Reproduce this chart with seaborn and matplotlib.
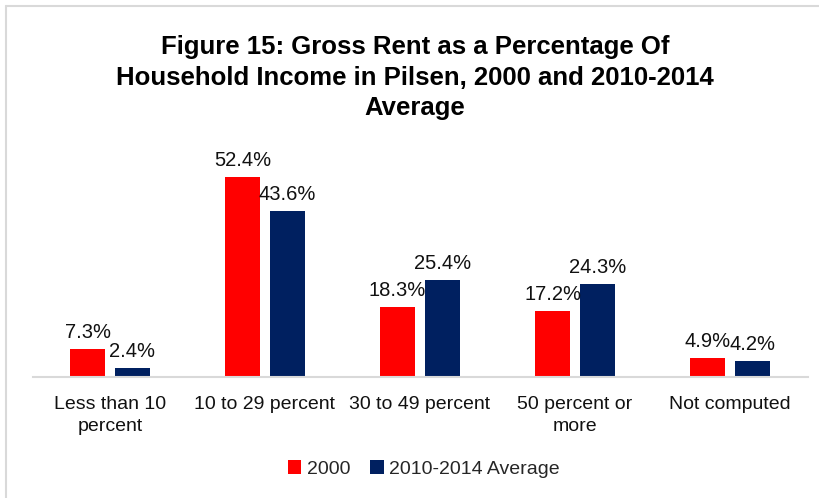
import matplotlib
matplotlib.use("Agg")
import matplotlib.pyplot as plt
from matplotlib.lines import Line2D
import seaborn as sns
import pandas as pd

categories = ["Less than 10\npercent", "10 to 29 percent", "30 to 49 percent",
              "50 percent or\nmore", "Not computed"]
series_names = ["2000", "2010-2014 Average"]
values_2000 = [7.3, 52.4, 18.3, 17.2, 4.9]
values_2014 = [2.4, 43.6, 25.4, 24.3, 4.2]
colors = ["#FF0000", "#002060"]

df = pd.DataFrame({
    "category": categories * 2,
    "series": [series_names[0]] * len(categories) + [series_names[1]] * len(categories),
    "value": values_2000 + values_2014,
})

sns.set_theme(style="white")
plt.rcParams['font.family'] = ['Liberation Sans', 'DejaVu Sans']

fig = plt.figure(figsize=(8.19, 4.98), dpi=100)
ax = fig.add_axes([32.5 / 819, (498 - 377) / 498, 775 / 819, 227 / 498])

sns.barplot(data=df, x="category", y="value", hue="series", order=categories,
            hue_order=series_names, palette=colors, width=0.58, gap=0.22,
            saturation=1, edgecolor="none", ax=ax, legend=True)

ax.set_ylim(0, 59.47)
ax.set_xlim(-0.5, len(categories) - 0.5)
for s in ["top", "right", "left"]:
    ax.spines[s].set_visible(False)
ax.spines["bottom"].set_color("#d9d9d9")
ax.spines["bottom"].set_linewidth(1.5)
ax.set_yticks([])
ax.set_xlabel("")
ax.set_ylabel("")
ax.tick_params(axis="x", length=0, pad=14, labelsize=14, colors="#111111")
for lbl in ax.get_xticklabels():
    lbl.set_linespacing(1.35)

for container in ax.containers:
    ax.bar_label(container, labels=[f"{v:.1f}%" for v in container.datavalues],
                 padding=5, fontsize=14.5, color="#111111")

leg = ax.legend(loc="upper center", bbox_to_anchor=(0.505, -0.29), ncol=2,
                frameon=False, fontsize=14, handlelength=0.7, handleheight=0.7,
                handletextpad=0.3, columnspacing=1.0)

fig.text(0.507, 0.93, "Figure 15: Gross Rent as a Percentage Of\n"
         "Household Income in Pilsen, 2000 and 2010-2014\nAverage",
         ha="center", va="top", fontsize=18.5, fontweight="bold",
         linespacing=1.35, color="#000000")

fig.add_artist(Line2D([6 / 819, 1.0], [1 - 6 / 498, 1 - 6 / 498],
                      transform=fig.transFigure, color="#d9d9d9", lw=1.5))
fig.add_artist(Line2D([6 / 819, 6 / 819], [0, 1 - 6 / 498],
                      transform=fig.transFigure, color="#d9d9d9", lw=1.5))

fig.savefig("out.png", dpi=100)
